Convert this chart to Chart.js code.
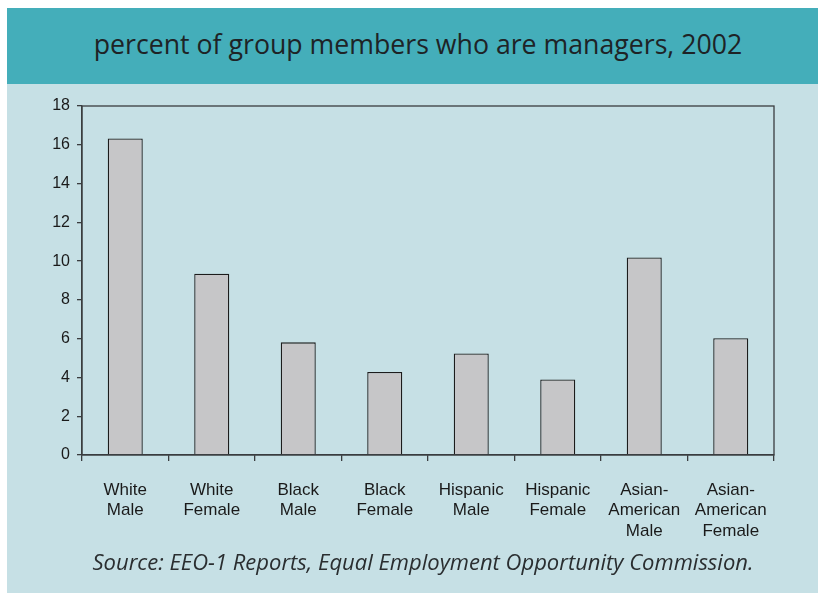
<!DOCTYPE html>
<html>
<head>
<meta charset="utf-8">
<script src="https://cdn.jsdelivr.net/npm/chart.js@4"></script>
<style>
  body{margin:0;background:#fff;width:820px;height:593px;position:relative;overflow:hidden;}
  #head{position:absolute;left:7px;top:8px;width:811px;height:76px;background:#44aeba;}
  #head div{position:absolute;left:0;width:822px;top:17px;text-align:center;font:26.7px "Open Sans",sans-serif;color:#1e2326;white-space:nowrap;}
  #panel{position:absolute;left:7px;top:84px;width:811px;height:509px;background:#c6e0e5;}
  #wrap{position:absolute;left:0;top:84px;width:820px;height:470px;}
  #src{position:absolute;left:0;width:846px;top:546px;text-align:center;font:italic 22px "Open Sans",sans-serif;color:#2a2e30;white-space:nowrap;}
</style>
</head>
<body>
<div id="head"><div>percent of group members who are managers, 2002</div></div>
<div id="panel"></div>
<div id="wrap"><canvas id="c" width="820" height="470"></canvas></div>
<div id="src">Source: EEO-1 Reports, Equal Employment Opportunity Commission.</div>
<script>
const groups = [['White','Male'],['White','Female'],['Black','Male'],['Black','Female'],['Hispanic','Male'],['Hispanic','Female'],['Asian-','American','Male'],['Asian-','American','Female']];
const percentManagers = [16.33, 9.35, 5.81, 4.28, 5.24, 3.90, 10.19, 6.02];
const yTicks = [0, 2, 4, 6, 8, 10, 12, 14, 16, 18];

// full box around plot area
const frame = {
  id:'frame',
  afterDatasetsDraw(chart){
    const a = chart.chartArea, ctx = chart.ctx;
    ctx.save();
    ctx.strokeStyle = '#3a3d3f'; ctx.lineWidth = 1.3;
    ctx.strokeRect(a.left, a.top, a.right - a.left, a.bottom - a.top);
    ctx.restore();
  }
};

new Chart(document.getElementById('c'), {
  type:'bar',
  data:{
    labels: groups,
    datasets:[{
      data: percentManagers,
      backgroundColor:'#c6c6c8',
      borderColor:'#1c1c1c',
      borderWidth:1.3,
      borderSkipped:'bottom',
      barPercentage:0.405,
      categoryPercentage:1
    }]
  },
  options:{
    responsive:false,
    animation:false,
    layout:{padding:{left:0,right:46,top:22,bottom:0}},
    plugins:{legend:{display:false},tooltip:{enabled:false}},
    scales:{
      x:{
        grid:{display:true,drawOnChartArea:false,offset:true,tickLength:6,color:'#3a3d3f',lineWidth:1.3},
        border:{color:'#3a3d3f',width:1.3},
        ticks:{color:'#1a1a1a',padding:19,maxRotation:0,autoSkip:false,font:{family:'"Liberation Sans", Arial, sans-serif',size:17,lineHeight:1.2}},
        afterFit(s){ s.height = 99; }
      },
      y:{
        min:0,max:18,
        afterBuildTicks(s){ s.ticks = yTicks.map(v=>({value:v})); },
        grid:{display:true,drawOnChartArea:false,tickLength:5,color:'#3a3d3f',lineWidth:1.3},
        border:{color:'#3a3d3f',width:1.3},
        ticks:{color:'#1a1a1a',padding:7,font:{family:'"Liberation Sans", Arial, sans-serif',size:16}},
        afterFit(s){ s.width = 82; }
      }
    }
  },
  plugins:[frame]
});
</script>
</body>
</html>
